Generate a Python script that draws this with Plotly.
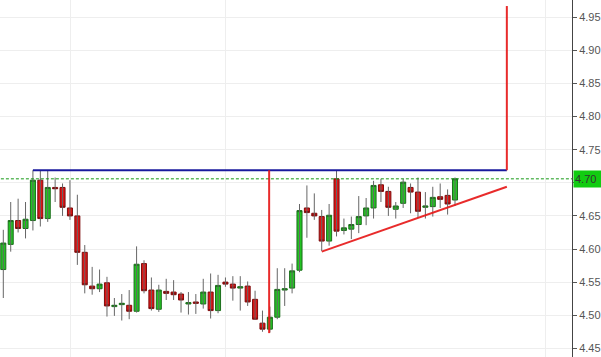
import math
import plotly.graph_objects as go

# ---- data ----
opens = [4.569, 4.607, 4.643, 4.631, 4.643, 4.704, 4.646, 4.693, 4.693, 4.662,
         4.650, 4.595, 4.544, 4.540, 4.549, 4.513, 4.516, 4.515, 4.506, 4.578,
         4.538, 4.509, 4.536, 4.535, 4.532, 4.517, 4.520, 4.517, 4.535, 4.507,
         4.550, 4.547, 4.541, 4.544, 4.524, 4.488, 4.479, 4.497, 4.538, 4.541,
         4.568, 4.662, 4.654, 4.649, 4.612, 4.706, 4.628, 4.630, 4.637, 4.650,
         4.662, 4.697, 4.687, 4.660, 4.669, 4.693, 4.686, 4.663, 4.664, 4.679,
         4.681, 4.674]
highs = [4.629, 4.671, 4.676, 4.671, 4.719, 4.719, 4.719, 4.708, 4.699, 4.704,
         4.682, 4.606, 4.573, 4.569, 4.558, 4.526, 4.532, 4.538, 4.604, 4.583,
         4.557, 4.546, 4.555, 4.553, 4.535, 4.535, 4.532, 4.555, 4.563, 4.561,
         4.557, 4.559, 4.559, 4.551, 4.537, 4.507, 4.513, 4.571, 4.571, 4.578,
         4.668, 4.696, 4.684, 4.659, 4.668, 4.719, 4.646, 4.649, 4.680, 4.677,
         4.703, 4.706, 4.694, 4.671, 4.706, 4.699, 4.708, 4.686, 4.694, 4.699,
         4.690, 4.708]
lows = [4.526, 4.596, 4.625, 4.616, 4.628, 4.634, 4.641, 4.671, 4.650, 4.644,
        4.576, 4.533, 4.531, 4.535, 4.498, 4.499, 4.492, 4.494, 4.504, 4.533,
        4.507, 4.505, 4.523, 4.523, 4.504, 4.501, 4.502, 4.510, 4.495, 4.503,
        4.543, 4.522, 4.507, 4.514, 4.493, 4.475, 4.474, 4.494, 4.514, 4.533,
        4.565, 4.617, 4.644, 4.597, 4.605, 4.619, 4.622, 4.615, 4.624, 4.636,
        4.646, 4.671, 4.650, 4.646, 4.662, 4.654, 4.647, 4.646, 4.649, 4.662,
        4.652, 4.665]
closes = [4.609, 4.643, 4.631, 4.645, 4.704, 4.646, 4.693, 4.691, 4.663, 4.650,
          4.595, 4.546, 4.540, 4.547, 4.514, 4.515, 4.518, 4.506, 4.577, 4.537,
          4.510, 4.538, 4.533, 4.531, 4.523, 4.519, 4.518, 4.535, 4.507, 4.545,
          4.547, 4.541, 4.543, 4.520, 4.494, 4.479, 4.497, 4.539, 4.540, 4.567,
          4.658, 4.655, 4.650, 4.612, 4.651, 4.627, 4.632, 4.637, 4.649, 4.662,
          4.696, 4.687, 4.663, 4.665, 4.701, 4.686, 4.657, 4.665, 4.678, 4.675,
          4.668, 4.706]

y_ticks = [4.45, 4.50, 4.55, 4.60, 4.65, 4.70, 4.75, 4.80, 4.85, 4.90, 4.95]
x_grid = [9.1, 30.0, 73.2]

# drawings (bar index, price)
resistance_x = [4.0, 68.0]
resistance_y = [4.719, 4.719]
drop_x = [35.9, 35.9]
drop_y = [4.719, 4.473]
target_x = [68.0, 68.0]
target_y = [4.719, 4.967]
trend_x = [43.0, 68.0]
trend_y = [4.596, 4.694]

# ---- figure ----
idx = list(range(len(closes)))
fig = go.Figure()

wx, wy = [], []
for i, h, l in zip(idx, highs, lows):
    wx += [i, i, None]
    wy += [h, l, None]
fig.add_trace(go.Scatter(x=wx, y=wy, mode="lines",
                         line=dict(color="#666666", width=1),
                         hoverinfo="skip", showlegend=False))

body_hi = [max(o, c) for o, c in zip(opens, closes)]
body_lo = [min(o, c) for o, c in zip(opens, closes)]
fig.add_trace(go.Candlestick(
    x=idx, open=opens, high=body_hi, low=body_lo, close=closes,
    increasing=dict(fillcolor="#22c322", line=dict(color="#1c6e1c", width=1)),
    decreasing=dict(fillcolor="#dd1515", line=dict(color="#7d0d0d", width=1)),
    whiskerwidth=0, showlegend=False, hoverinfo="skip"))

# price line
fig.add_trace(go.Scatter(x=[-1, 80], y=[closes[-1], closes[-1]], mode="lines",
                         line=dict(color="#149914", width=1, dash="3px,2px"),
                         hoverinfo="skip", showlegend=False))

fig.add_trace(go.Scatter(x=resistance_x, y=resistance_y, mode="lines",
                         line=dict(color="#1a1a9e", width=2),
                         hoverinfo="skip", showlegend=False))
for xs, ys in [(drop_x, drop_y), (target_x, target_y), (trend_x, trend_y)]:
    fig.add_trace(go.Scatter(x=xs, y=ys, mode="lines",
                             line=dict(color="rgba(230,25,25,0.92)", width=2),
                             hoverinfo="skip", showlegend=False))

last_label = "%.2f" % (math.floor(closes[-1] * 100 + 1e-9) / 100)
fig.add_annotation(xref="paper", x=1, xanchor="left", yref="y", y=closes[-1],
                   yanchor="middle", text=last_label, showarrow=False,
                   bgcolor="#11cc11", font=dict(family="Arial, Liberation Sans", size=11, color="#333333"),
                   width=27, height=14, borderpad=1, xshift=1, align="left")

fig.update_layout(
    width=601, height=357,
    margin=dict(l=0, r=29, t=0, b=0),
    paper_bgcolor="white", plot_bgcolor="white",
    boxgap=0.15, boxgroupgap=0.2,
    showlegend=False,
    font=dict(family="Arial, Liberation Sans", size=11, color="#555555"),
    xaxis=dict(range=[-0.446, 76.8], rangeslider=dict(visible=False),
               showticklabels=False, tickvals=x_grid, ticks="",
               showgrid=True, gridcolor="#eeeeee", gridwidth=1,
               zeroline=False, showline=False, fixedrange=True),
    yaxis=dict(range=[4.4369, 4.9761], side="right", tickvals=y_ticks,
               tickformat=".2f", ticks="outside", ticklen=4, tickcolor="#555555",
               showline=True, linecolor="#444444", linewidth=1,
               showgrid=True, gridcolor="#eeeeee", gridwidth=1,
               zeroline=False, fixedrange=True,
               tickfont=dict(size=11, color="#555555")),
)

fig.write_html("out.html", config={"displayModeBar": False, "staticPlot": True},
               post_script="document.body.style.margin='0';document.body.style.overflow='hidden';")
